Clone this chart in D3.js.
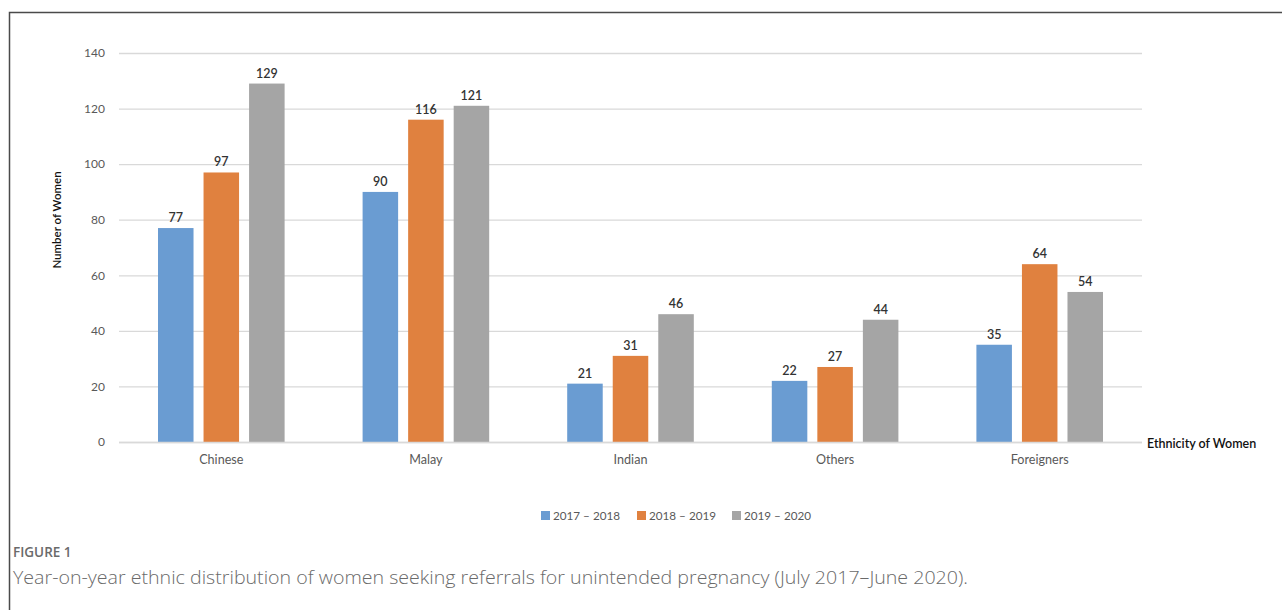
<!DOCTYPE html>
<html><head><meta charset="utf-8">
<script src="https://cdn.jsdelivr.net/npm/d3@7"></script>
<style>
html,body{margin:0;padding:0;background:#fff;}
svg{display:block;}
</style></head>
<body>
<svg id="c" width="1282" height="610"></svg>
<script>
const categories = ["Chinese", "Malay", "Indian", "Others", "Foreigners"];
const seriesNames = ["2017 \u2013 2018", "2018 \u2013 2019", "2019 \u2013 2020"];
const s2017 = [77, 90, 21, 22, 35];
const s2018 = [97, 116, 31, 27, 64];
const s2019 = [129, 121, 46, 44, 54];
const yTicks = [0, 20, 40, 60, 80, 100, 120, 140];
const colors = ["#6a9cd2", "#e0813f", "#a5a5a5"];

(function () {
const series = [s2017, s2018, s2019];
const svg = d3.select("#c");
const font = "Lato, 'Open Sans', sans-serif";

// frame
svg.append("path").attr("d", "M9.5,610 L9.5,12.5 L1282,12.5")
  .attr("fill", "none").attr("stroke", "#4a4a4a").attr("stroke-width", 1.5);

const pLeft = 119, pRight = 1142, pTop = 53, pBottom = 442;
const x = d3.scaleBand().domain(categories).range([pLeft, pRight]).paddingInner(0).paddingOuter(0);
const x1 = d3.scaleBand().domain(d3.range(3)).range([39, x.bandwidth() - 39]).paddingInner(0.22).paddingOuter(0);
const y = d3.scaleLinear().domain([0, 140]).range([pBottom, pTop]);

// grid
const yAxis = d3.axisLeft(y).tickValues(yTicks).tickSize(-(pRight - pLeft)).tickPadding(14);
const ga = svg.append("g").attr("transform", `translate(${pLeft},0)`).call(yAxis);
ga.select(".domain").remove();
ga.selectAll(".tick line").attr("stroke", "#d9d9d9").attr("stroke-width", 1.3);
ga.selectAll(".tick text").attr("fill", "#595959").attr("font-family", font).attr("font-size", 12);

// bars
const groups = svg.append("g").selectAll("g").data(categories).join("g")
  .attr("transform", d => `translate(${x(d)},0)`);
groups.each(function(cat, ci) {
  const g = d3.select(this);
  series.forEach((s, si) => {
    g.append("rect").attr("x", x1(si)).attr("width", x1.bandwidth())
      .attr("y", y(s[ci])).attr("height", y(0) - y(s[ci])).attr("fill", colors[si]);
    g.append("text").attr("x", x1(si) + x1.bandwidth() / 2).attr("y", y(s[ci]) - 6)
      .attr("text-anchor", "middle").attr("font-family", font).attr("font-size", 12.5)
      .attr("font-weight", 600).attr("fill", "#333").text(s[ci]);
  });
});

// x axis line
svg.append("line").attr("x1", pLeft).attr("x2", pRight).attr("y1", pBottom + 0.5).attr("y2", pBottom + 0.5)
  .attr("stroke", "#d9d9d9").attr("stroke-width", 1.3);
const xAxis = d3.axisBottom(x).tickSize(0).tickPadding(13);
const gx = svg.append("g").attr("transform", `translate(0,${pBottom})`).call(xAxis);
gx.select(".domain").remove();
gx.selectAll(".tick text").attr("fill", "#595959").attr("font-family", font).attr("font-size", 12.6);

// axis titles
svg.append("text").attr("transform", "translate(61,220) rotate(-90)").attr("text-anchor", "middle")
  .attr("font-family", font).attr("font-size", 11.5).attr("font-weight", 600).attr("fill", "#111").text("Number of Women");
svg.append("text").attr("x", 1147).attr("y", 448).attr("font-family", font).attr("font-size", 12.5)
  .attr("font-weight", 600).attr("fill", "#111").text("Ethnicity of Women");

// legend
const legX = [541, 637, 732];
const lg = svg.append("g").selectAll("g").data(seriesNames).join("g")
  .attr("transform", (d, i) => `translate(${legX[i]},511)`);
lg.append("rect").attr("width", 9).attr("height", 9).attr("fill", (d, i) => colors[i]);
lg.append("text").attr("x", 12).attr("y", 9).attr("font-family", font).attr("font-size", 11.7)
  .attr("fill", "#595959").text(d => d);

// caption
svg.append("text").attr("x", 13).attr("y", 557).attr("font-family", "'Open Sans', sans-serif")
  .attr("font-size", 13.5).attr("font-weight", 600).attr("fill", "#6a6a6a").text("FIGURE 1");
const cap = svg.append("text").attr("x", 13).attr("y", 584).attr("font-family", "'Open Sans', sans-serif")
  .attr("font-size", 18).attr("font-weight", 300).attr("fill", "#6a6a6a")
  .text("Year-on-year ethnic distribution of women seeking referrals for unintended pregnancy (July 2017\u2013June 2020).");
const natural = cap.node().getComputedTextLength();
if (Math.abs(natural - 955) > 3) cap.attr("textLength", 955).attr("lengthAdjust", "spacingAndGlyphs");
})();
</script>
</body></html>
